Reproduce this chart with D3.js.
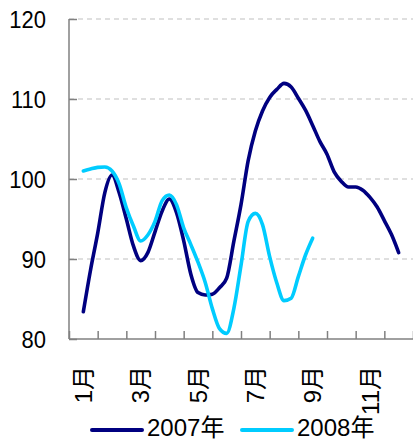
<!DOCTYPE html>
<html><head><meta charset="utf-8">
<script src="https://cdn.jsdelivr.net/npm/d3@7"></script>
<style>html,body{margin:0;padding:0;background:#fff;}svg{display:block;}</style>
</head><body>
<script>
// Months (category axis)
const months = ["1月","2月","3月","4月","5月","6月","7月","8月","9月","10月","11月","12月"];
const yTicks = [80, 90, 100, 110, 120];
const seriesNames = ["2007年", "2008年"];
// Weekly-ish readings (4 per month), starting mid-January
const values2007 = [83.4,88.6,93.2,98.3,100.5,98.3,95.0,91.6,89.8,90.8,93.4,96.0,97.5,95.8,92.3,88.1,
  85.8,85.5,85.6,86.4,87.6,92.2,96.8,102.3,106.0,108.5,110.2,111.2,111.95,111.5,110.1,108.6,
  106.7,104.7,103.1,100.9,99.7,99.0,99.0,98.6,97.7,96.5,94.8,93.05,90.8];
const values2008 = [101.0,101.25,101.45,101.5,101.0,99.4,96.4,94.1,92.25,93.0,94.7,97.3,98.0,96.8,93.9,91.8,
  89.6,87.1,83.8,81.3,80.7,83.8,89.2,94.7,95.7,94.3,90.3,87.0,84.8,85.1,87.8,90.5,92.6];

(function () {
const W = 413, H = 443;
const mLeft = 69, mRight = 413, mTop = 19, mBottom = 339;
const svg = d3.select("body").append("svg").attr("width", W).attr("height", H);

const x = d3.scaleLinear().domain([1, 13]).range([mLeft, mRight]);
const y = d3.scaleLinear().domain([80, 120]).range([mBottom, mTop]);
const tOf = i => 1.5 + i / 4;

// grid
svg.append("g").selectAll("line").data(yTicks.filter(v => v > 80)).join("line")
  .attr("x1", mLeft).attr("x2", mRight).attr("y1", d => y(d)).attr("y2", d => y(d))
  .attr("stroke", "#bfbfbf").attr("stroke-width", 1).attr("stroke-dasharray", "5,4");

// y axis
const yAxis = svg.append("g").attr("transform", `translate(${mLeft},0)`)
  .call(d3.axisRight(y).tickValues(yTicks).tickSize(8).tickFormat(""));
yAxis.selectAll("path,line").attr("stroke", "#808080").attr("stroke-width", 1.5);
yAxis.select(".domain").attr("d", `M0,${mTop}V${mBottom}`);
svg.append("g").selectAll("text").data(yTicks).join("text")
  .attr("transform", d => `translate(46,${y(d) + 1}) scale(1,1.1)`)
  .attr("text-anchor", "end").attr("dominant-baseline", "central")
  .attr("font-family", "Liberation Sans, Arial, sans-serif").attr("font-size", 22)
  .attr("fill", "#000").text(d => d);

// x axis
const xAxis = svg.append("g").attr("transform", `translate(0,${mBottom})`)
  .call(d3.axisTop(x).tickValues(d3.range(1, 14)).tickSize(8).tickSizeOuter(0).tickFormat(""));
xAxis.selectAll("path,line").attr("stroke", "#808080").attr("stroke-width", 1.5);
xAxis.select(".domain").attr("d", `M${mLeft},0H${mRight}`);
svg.append("g").selectAll("text").data(months.map((m, i) => ({m, i})).filter(d => d.i % 2 === 0)).join("text")
  .attr("transform", d => `translate(${x(d.i + 1.5)},366) rotate(-90)`)
  .attr("text-anchor", "end").attr("dominant-baseline", "central")
  .attr("font-family", "Liberation Sans, Arial, 'Noto Sans CJK SC', sans-serif").attr("font-size", 24)
  .attr("fill", "#000").text(d => d.m);

// lines
const colors = ["#000080", "#00CCFF"];
const line = d3.line().x((d, i) => x(tOf(i))).y(d => y(d)).curve(d3.curveMonotoneX);
[values2007, values2008].forEach((vals, k) => {
  svg.append("path").datum(vals).attr("d", line).attr("fill", "none")
    .attr("stroke", colors[k]).attr("stroke-width", 3.6)
    .attr("stroke-linejoin", "round").attr("stroke-linecap", "round");
});

// legend
const legendY = 430;
const leg = [{x1: 92, x2: 142, tx: 147}, {x1: 242, x2: 292, tx: 297}];
seriesNames.forEach((name, k) => {
  svg.append("line").attr("x1", leg[k].x1).attr("x2", leg[k].x2).attr("y1", legendY).attr("y2", legendY)
    .attr("stroke", colors[k]).attr("stroke-width", 4).attr("stroke-linecap", "round");
  svg.append("text").attr("x", leg[k].tx).attr("y", 436)
    .attr("font-family", "Liberation Sans, Arial, 'Noto Sans CJK SC', sans-serif").attr("font-size", 24)
    .attr("fill", "#000").text(name);
});
})();
</script>
</body></html>
